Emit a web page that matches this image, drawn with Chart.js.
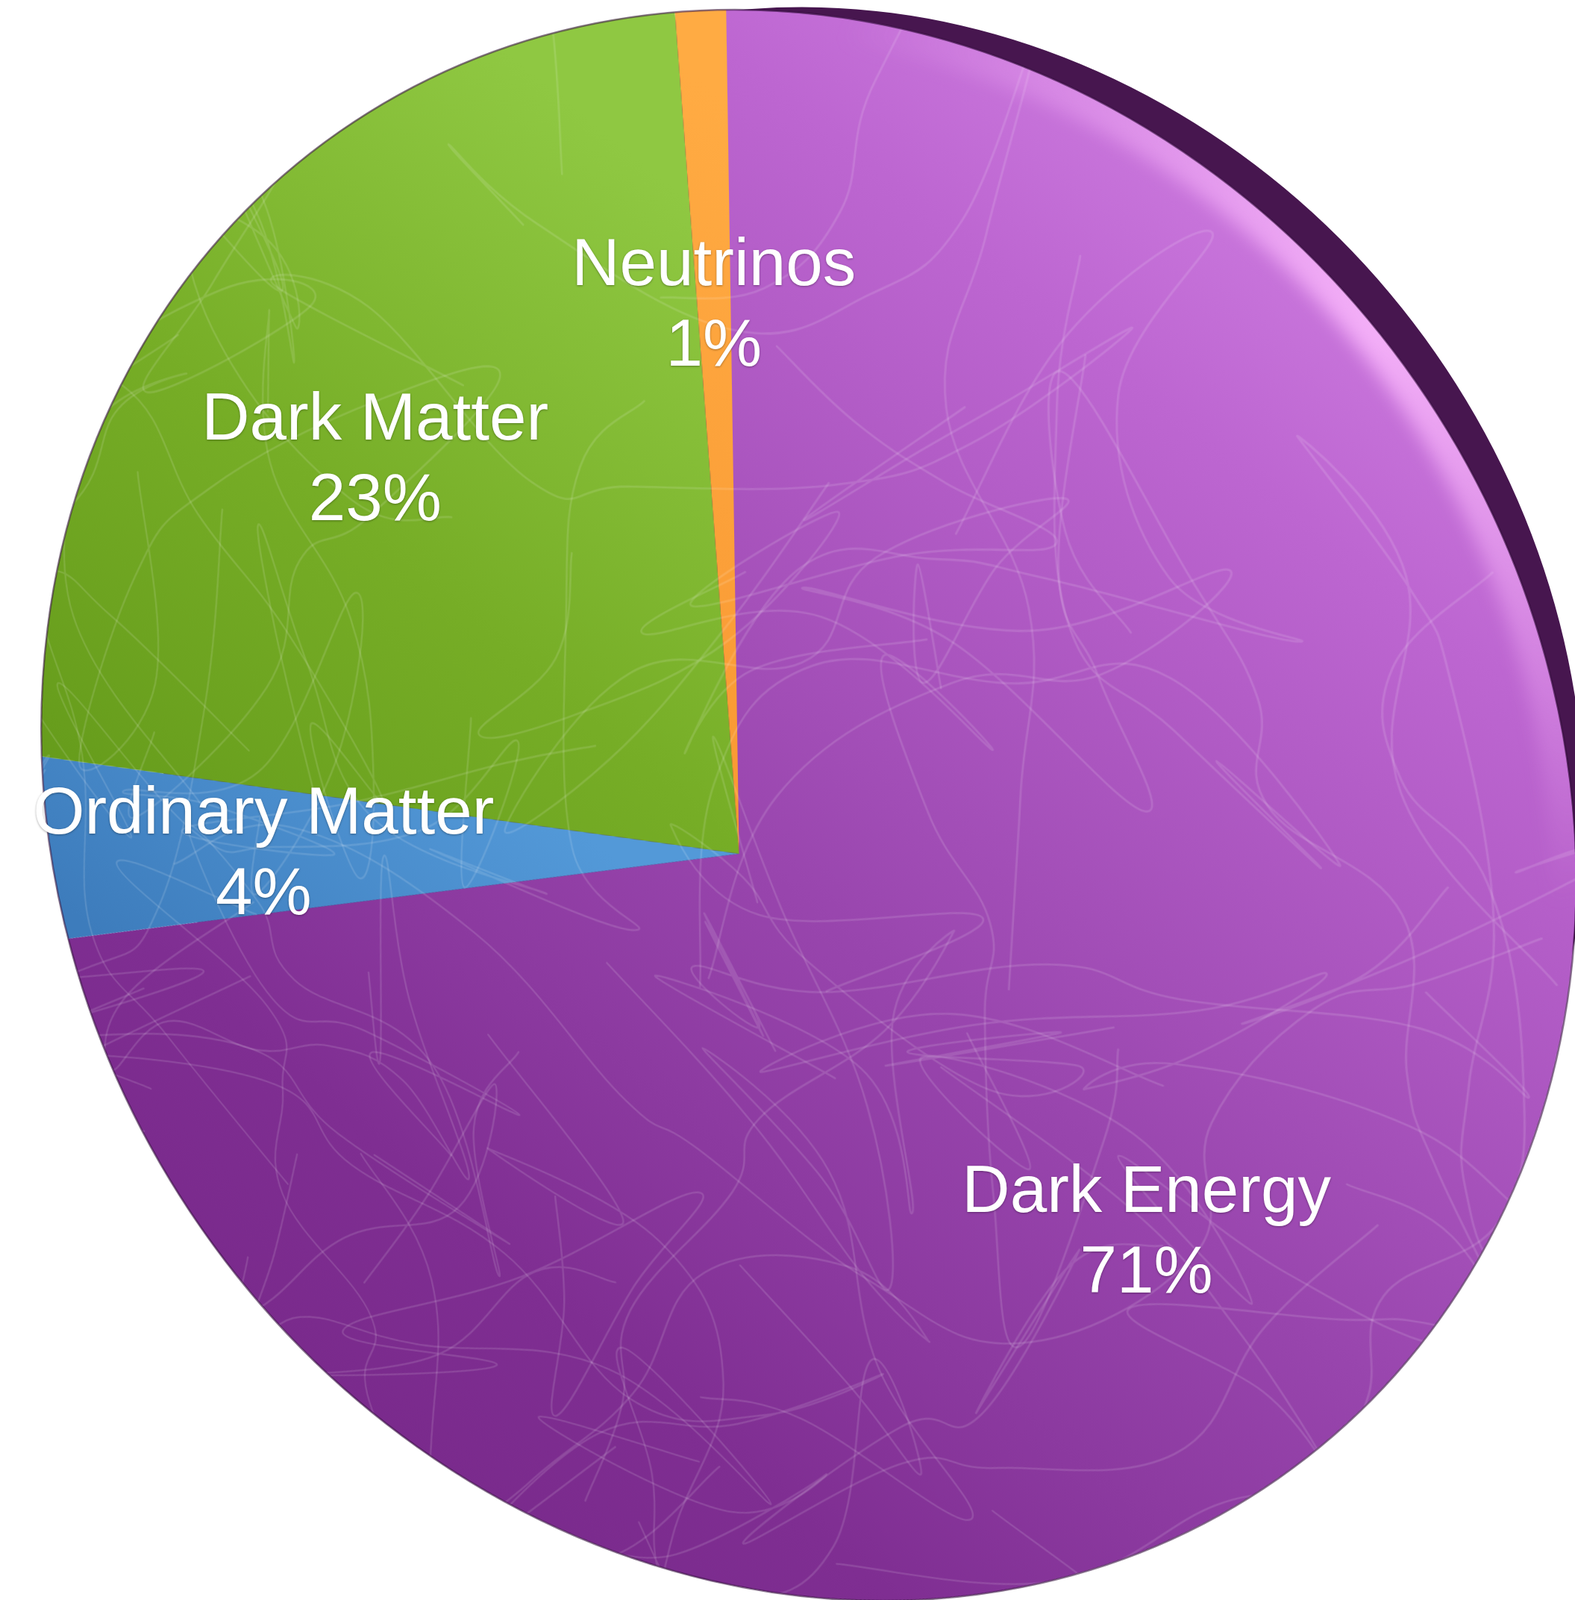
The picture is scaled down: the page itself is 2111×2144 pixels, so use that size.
<!DOCTYPE html>
<html>
<head>
<meta charset="utf-8">
<title>Cosmic Inventory</title>
<script src="https://cdn.jsdelivr.net/npm/chart.js@4.4.0/dist/chart.umd.min.js"></script>
<style>
  html, body { margin: 0; padding: 0; background: #fff; overflow: hidden; }
  #stage { position: relative; width: 2111px; height: 2144px; overflow: hidden; }
  #stage canvas { position: absolute; left: 0; top: 0; }
  #rim { z-index: 0; }
  #pie { z-index: 1; transform-origin: 0 0; }
  #labels { z-index: 2; }
</style>
</head>
<body>
<div id="stage">
  <canvas id="rim" width="2111" height="2144"></canvas>
  <canvas id="pie" width="2000" height="2000"></canvas>
  <canvas id="labels" width="2111" height="2144"></canvas>
</div>
<script>
// what the universe is made of, in percent
const categories = ['Dark Energy', 'Ordinary Matter', 'Dark Matter', 'Neutrinos'];
const percents = [71, 4, 23, 1];

// colour ramps per slice, [position along the light direction, colour]
const sliceStops = [
  [[0, '#d484e6'], [0.18, '#bd66d1'], [0.5, '#9845ad'], [0.78, '#7f2e92'], [1, '#772889']],
  [[0.55, '#5399d8'], [0.8, '#3d7cbc']],
  [[0.25, '#8fc842'], [0.5, '#76ad26'], [0.75, '#659b1b']],
  [[0.2, '#ffab43'], [0.55, '#f8952f']]
];

const PIE_R = 1000;          // radius of the flat pie on its own canvas
const LABEL_RADIUS = 0.67;   // label anchor, as a fraction of the radius
const LABEL_FONT = '89px "Liberation Sans", Arial, Helvetica, sans-serif';

// tilted-disc view: ellipse the rim projects to, how far the centre is pushed back, spin
const view = { cx: 1084, cy: 1079, a: 1100, b: 992, angle: 55.1, tilt: 0.1147, spin: -53.0 };
// side wall seen on the near edge (offset direction and size in face units)
const wall = { dir: -97.5, shift: 0.115, scale: 0.93, color: '#47164f' };
// light direction on screen (bright end -> dark end)
const lightFrom = [2000, 200], lightTo = [500, 2100];

function mul(A, B) {
  const C = [[0, 0, 0], [0, 0, 0], [0, 0, 0]];
  for (let i = 0; i < 3; i++)
    for (let j = 0; j < 3; j++)
      for (let k = 0; k < 3; k++) C[i][j] += A[i][k] * B[k][j];
  return C;
}

function invert(m) {
  const [a, b, c] = m[0], [d, e, f] = m[1], [g, h, i] = m[2];
  const A = e * i - f * h, B = -(d * i - f * g), C = d * h - e * g;
  const det = a * A + b * B + c * C;
  return [
    [A / det, -(b * i - c * h) / det, (b * f - c * e) / det],
    [B / det, (a * i - c * g) / det, -(a * f - c * d) / det],
    [C / det, -(a * h - b * g) / det, (a * e - b * d) / det]
  ];
}

function project(H, x, y) {
  const w = H[2][0] * x + H[2][1] * y + H[2][2];
  return [(H[0][0] * x + H[0][1] * y + H[0][2]) / w, (H[1][0] * x + H[1][1] * y + H[1][2]) / w];
}

// flat pie canvas -> screen
function viewMatrix() {
  const be = view.angle * Math.PI / 180;
  const ux = Math.cos(be), uy = Math.sin(be), vx = -Math.sin(be), vy = Math.cos(be);
  const M = [[view.a * ux, view.b * vx, view.cx], [view.a * uy, view.b * vy, view.cy], [0, 0, 1]];
  const ch = 1 / Math.sqrt(1 - view.tilt * view.tilt), sh = view.tilt * ch;
  const B = [[1, 0, 0], [0, ch, sh], [0, sh, ch]];
  const f = view.spin * Math.PI / 180;
  const Rt = [[Math.cos(f), -Math.sin(f), 0], [Math.sin(f), Math.cos(f), 0], [0, 0, 1]];
  const T = [[1 / PIE_R, 0, -1], [0, 1 / PIE_R, -1], [0, 0, 1]];
  const H = mul(M, mul(B, mul(Rt, T)));
  const s = H[2][2];
  return H.map(row => row.map(v => v / s));
}

const H = viewMatrix();
const Hinv = invert(H);

document.getElementById('pie').style.transform = 'matrix3d(' + [
  H[0][0], H[1][0], 0, H[2][0],
  H[0][1], H[1][1], 0, H[2][1],
  0, 0, 1, 0,
  H[0][2], H[1][2], 0, H[2][2]
].join(',') + ')';

function faceEllipse(ctx, grow) {
  ctx.beginPath();
  ctx.ellipse(view.cx, view.cy, view.a + grow, view.b + grow, view.angle * Math.PI / 180, 0, Math.PI * 2);
}

// dark side wall behind the face
function drawWall() {
  const ctx = document.getElementById('rim').getContext('2d');
  const be = view.angle * Math.PI / 180;
  const ux = Math.cos(be), uy = Math.sin(be), vx = -Math.sin(be), vy = Math.cos(be);
  const d = wall.dir * Math.PI / 180;
  const X = Math.cos(d) * wall.shift * view.a, Y = Math.sin(d) * wall.shift * view.b;
  const x = view.cx + X * ux + Y * vx;
  const y = view.cy + X * uy + Y * vy;
  ctx.fillStyle = wall.color;
  ctx.beginPath();
  ctx.ellipse(x, y, view.a * wall.scale, view.b * wall.scale, be, 0, Math.PI * 2);
  ctx.fill();
}

// small seeded generator so the scribble texture is the same on every load
function mulberry32(seed) {
  return function () {
    seed |= 0; seed = seed + 0x6D2B79F5 | 0;
    let t = Math.imul(seed ^ seed >>> 15, 1 | seed);
    t = t + Math.imul(t ^ t >>> 7, 61 | t) ^ t;
    return ((t ^ t >>> 14) >>> 0) / 4294967296;
  };
}

// faint hand-drawn loops over the slices: a wandering pen, smoothed
function drawScribbles(ctx, cx, cy, r) {
  const rand = mulberry32(11);
  ctx.save();
  ctx.beginPath();
  ctx.arc(cx, cy, r, 0, Math.PI * 2);
  ctx.clip();
  ctx.strokeStyle = 'rgba(255, 255, 255, 0.13)';
  ctx.lineWidth = 2.6;
  ctx.lineJoin = 'round';
  ctx.lineCap = 'round';
  for (let n = 0; n < 60; n++) {
    let x = cx + (rand() * 2 - 1) * r, y = cy + (rand() * 2 - 1) * r;
    let h = rand() * Math.PI * 2;
    const pts = [[x, y]];
    for (let k = 0; k < 11; k++) {
      h += rand() < 0.35 ? Math.PI * (0.8 + rand() * 0.3) : (rand() - 0.5) * 1.8;
      const step = 110 + rand() * 190;
      x += Math.cos(h) * step;
      y += Math.sin(h) * step;
      pts.push([x, y]);
    }
    ctx.beginPath();
    ctx.moveTo(pts[0][0], pts[0][1]);
    for (let k = 0; k < pts.length - 1; k++) {
      const p0 = pts[Math.max(k - 1, 0)], p1 = pts[k], p2 = pts[k + 1], p3 = pts[Math.min(k + 2, pts.length - 1)];
      ctx.bezierCurveTo(
        p1[0] + (p2[0] - p0[0]) / 5, p1[1] + (p2[1] - p0[1]) / 5,
        p2[0] - (p3[0] - p1[0]) / 5, p2[1] - (p3[1] - p1[1]) / 5,
        p2[0], p2[1]);
    }
    ctx.stroke();
  }
  ctx.restore();
}

const gradCache = [];
function sliceFill(context) {
  const i = context.dataIndex;
  if (gradCache[i]) return gradCache[i];
  const g0 = project(Hinv, lightFrom[0], lightFrom[1]);
  const g1 = project(Hinv, lightTo[0], lightTo[1]);
  const g = context.chart.ctx.createLinearGradient(g0[0], g0[1], g1[0], g1[1]);
  sliceStops[i].forEach(s => g.addColorStop(s[0], s[1]));
  gradCache[i] = g;
  return g;
}

const texturePlugin = {
  id: 'scribbles',
  afterDatasetsDraw(chart) {
    const arc = chart.getDatasetMeta(0).data[0];
    const p = arc.getProps(['x', 'y', 'outerRadius'], true);
    drawScribbles(chart.ctx, p.x, p.y, p.outerRadius);
  }
};

const labelPlugin = {
  id: 'sliceLabels',
  afterDraw(chart) {
    const ctx = document.getElementById('labels').getContext('2d');
    ctx.clearRect(0, 0, ctx.canvas.width, ctx.canvas.height);

    // sheen along the near edge
    ctx.save();
    faceEllipse(ctx, 0);
    ctx.clip();
    const sheen = ctx.createRadialGradient(1850, 430, 0, 1850, 430, 820);
    sheen.addColorStop(0, 'rgba(255, 190, 255, 0.8)');
    sheen.addColorStop(1, 'rgba(255, 190, 255, 0)');
    ctx.filter = 'blur(12px)';
    ctx.strokeStyle = sheen;
    ctx.lineWidth = 70;
    faceEllipse(ctx, 0);
    ctx.stroke();
    ctx.restore();

    // thin dark edge round the face
    ctx.save();
    ctx.strokeStyle = 'rgba(45, 10, 55, 0.55)';
    ctx.lineWidth = 2.5;
    faceEllipse(ctx, 0);
    ctx.stroke();
    ctx.restore();

    const meta = chart.getDatasetMeta(0);
    ctx.save();
    ctx.font = LABEL_FONT;
    ctx.fillStyle = '#ffffff';
    ctx.textAlign = 'center';
    ctx.textBaseline = 'alphabetic';
    ctx.shadowColor = 'rgba(0, 0, 0, 0.35)';
    ctx.shadowBlur = 3;
    ctx.shadowOffsetY = 1;
    meta.data.forEach((arc, i) => {
      const p = arc.getProps(['x', 'y', 'startAngle', 'endAngle', 'outerRadius'], true);
      const mid = (p.startAngle + p.endAngle) / 2;
      const r = p.outerRadius * LABEL_RADIUS;
      const [sx, sy] = project(H, p.x + Math.cos(mid) * r, p.y + Math.sin(mid) * r);
      ctx.fillText(categories[i], sx, sy - 22);
      ctx.fillText(percents[i] + '%', sx, sy + 86);
    });
    ctx.restore();
  }
};

drawWall();

new Chart(document.getElementById('pie'), {
  type: 'pie',
  data: {
    labels: categories,
    datasets: [{
      data: percents,
      backgroundColor: sliceFill,
      borderWidth: 0,
      hoverOffset: 0
    }]
  },
  options: {
    responsive: false,
    animation: false,
    devicePixelRatio: 1,
    layout: { padding: 0 },
    events: [],
    plugins: {
      legend: { display: false },
      tooltip: { enabled: false }
    }
  },
  plugins: [texturePlugin, labelPlugin]
});
</script>
</body>
</html>
